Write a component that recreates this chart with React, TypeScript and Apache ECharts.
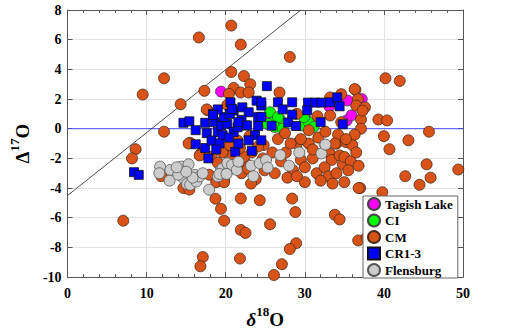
import React, { useEffect, useRef } from "react";
import * as echarts from "echarts";

// ---- data (δ18O, Δ17O) ----
const tagishLake: number[][] = [
  [19.4, 2.5], [25.6, 0.9], [30.1, 0.67], [33.1, 1.5], [35.4, 1.9], [36.7, 1.8],
  [37.2, 2.0], [35.3, 0.56], [35.9, 0.9],
];

const ciData: number[][] = [
  [25.6, 1.11], [26.0, 0.44], [26.8, 0.67], [26.6, 0.78], [26.2, 0.11], [27.2, 0.0],
  [29.7, 0.22], [30.5, 0.44], [31.1, 0.11], [29.9, 0.78], [25.3, 0.33],
];

const cmData: number[][] = [
  // upper scatter
  [20.7, 6.95], [16.6, 6.15], [21.9, 5.67], [28.1, 4.84], [20.7, 3.82], [22.3, 3.55],
  [12.2, 3.4], [23.1, 3.0], [17.3, 2.55], [9.5, 2.3], [21.0, 2.75], [20.4, 2.35],
  [21.9, 2.44], [22.9, 2.44], [26.8, 2.44], [14.3, 1.65], [17.7, 1.25], [20.2, 1.6],
  [12.2, -0.2], [8.6, -1.38], [8.15, -2.0], [15.5, -0.95], [16.8, -1.73], [19.8, -1.55],
  [33.2, 2.11], [34.6, 2.33], [36.4, 2.62], [36.7, 2.0], [36.5, 1.56], [37.6, 1.44],
  [37.1, 0.62], [39.3, 0.62], [40.4, 0.56], [40.2, 3.4], [42.0, 3.22], [45.7, -0.2],
  [40.0, -0.5], [43.1, -0.78], [40.7, -1.38], [45.4, -2.4], [49.4, -2.75], [42.7, -3.2],
  [44.5, -3.78], [45.9, -3.3], [39.8, -4.28], [37.0, -4.0], [31.6, 0.84], [33.2, 0.89],
  [34.6, 0.44], [37.1, 0.0], [29.0, 1.0], [37.3, 1.22], [36.3, 2.67], [17.6, 1.3],
  // dense cluster
  [24.8, -1.1], [25.9, -1.6], [27.6, -1.6], [29.0, -1.0], [29.5, -2.1], [30.5, -1.0],
  [31.7, -0.6], [32.6, -1.1], [33.2, -1.7], [33.4, -2.1], [34.0, -1.0], [34.4, -1.8],
  [34.8, -2.4], [35.0, -1.9], [35.2, -0.9], [35.8, -2.2], [36.0, -1.1], [36.3, -0.4],
  [26.2, -3.0], [24.9, -2.8], [24.7, -2.0], [24.1, -1.2], [23.3, -1.6], [22.5, -2.3],
  [22.3, -1.9], [21.0, -2.2], [20.8, -1.8], [19.6, -1.6], [18.8, -3.3], [19.8, -3.4],
  [17.9, -3.1], [18.8, -3.6], [19.8, -3.6], [16.7, -1.8], [15.3, -1.0], [14.65, -4.0],
  [15.4, -4.1], [11.85, -3.2], [26.6, -0.7], [29.5, -0.7], [32.6, -0.2], [34.2, -0.4],
  [35.2, -0.7], [28.2, -1.0], [33.8, -1.0], [30.5, -0.1], [27.0, -2.2], [28.5, -2.8],
  [30.0, -2.6], [31.0, -2.0], [31.5, -3.0], [32.5, -2.6], [33.0, -3.2], [34.0, -3.0],
  [35.5, -2.8], [36.5, -1.6], [36.8, -2.5], [23.0, -0.5], [21.5, -0.8], [20.5, -1.1],
  [22.0, -3.0], [23.8, -3.4], [27.8, -3.3], [30.0, -3.6], [32.0, -3.5], [36.8, -4.0],
  [23.2, -3.7], [35.0, -3.6], [33.5, -3.7], [29.0, -3.2], [31.0, -1.4], [27.5, -0.3],
  [18.2, -1.9], [19.0, -2.3], [21.8, -1.3], [22.8, -2.7],
  // lower scatter
  [7.04, -6.2], [17.1, -8.65], [16.8, -9.27], [21.8, -8.75], [21.9, -4.7], [18.7, -4.72],
  [19.4, -5.4], [19.8, -6.2], [21.9, -6.82], [22.5, -7.02], [24.3, -4.82], [28.4, -4.71],
  [28.8, -5.62], [25.6, -6.44], [33.8, -5.8], [34.4, -6.11], [28.9, -7.72], [28.1, -8.11],
  [27.1, -9.13], [26.1, -9.86], [36.75, -7.53], [37.8, -7.33],
];

const cr13Data: number[][] = [
  [8.4, -2.93], [9.0, -3.11], [14.65, 0.4], [15.4, 0.5], [16.2, -0.1], [16.2, -1.05],
  [17.4, -1.3], [17.4, 0.4], [18.4, 1.0], [17.6, -0.3], [18.6, 0.44], [19.0, -0.22],
  [19.4, 0.22], [20.2, 0.33], [19.8, 0.78], [20.6, 1.78], [21.0, 1.22], [22.1, 1.44],
  [22.9, 1.11], [23.9, 1.89], [24.5, 1.56], [24.1, 0.78], [19.6, -0.44], [21.0, -0.22],
  [22.5, 0.22], [23.7, -0.44], [21.2, -1.56], [23.3, -1.49], [21.6, -1.0], [22.9, -0.78],
  [17.8, -2.0], [25.2, 2.87], [24.5, 1.78], [26.6, 1.78], [28.4, 1.78], [30.4, 1.76],
  [31.3, 1.76], [32.1, 1.76], [33.2, 1.78], [34.1, 2.11], [34.4, 1.51], [30.3, 1.24],
  [27.2, 1.3], [28.4, 0.95], [24.5, 0.8], [25.8, 0.2], [27.9, 0.42], [28.9, 0.18],
  [32.0, 0.44], [34.8, 0.3], [24.5, -0.78], [18.2, -0.8], [19.2, -1.0], [20.4, -0.6],
  [18.8, -1.4], [22.0, 0.6], [21.5, 0.1], [20.5, 1.0], [19.0, 1.3], [20.8, 1.33],
  [21.6, 0.44], [22.7, 0.22], [24.1, 0.18], [18.4, 0.93],
];

const flensburgData: number[][] = [
  [11.7, -2.56], [11.6, -3.0], [13.0, -2.78], [12.9, -3.5], [14.4, -2.56], [15.3, -2.4],
  [14.65, -3.33], [15.1, -3.73], [14.0, -3.1], [15.5, -3.78], [16.1, -3.11], [16.3, -3.56],
  [16.7, -3.22], [17.1, -3.0], [17.9, -4.11], [19.0, -3.22], [19.4, -2.78], [19.6, -2.67],
  [20.4, -2.78], [20.2, -2.33], [20.8, -2.44], [21.4, -2.78], [21.6, -2.22], [23.2, -2.49],
  [23.5, -3.2], [24.3, -2.33], [25.1, -2.11], [25.3, -2.62], [26.9, -1.78], [28.0, -2.49],
  [29.3, -1.6], [32.1, -1.67], [32.6, -1.07], [15.8, -3.3], [15.0, -2.9], [13.8, -2.6],
  [19.2, -3.05], [20.1, -3.05],
];

const diagonalLine: number[][] = [[0, -4.5], [29.5, 8]];
const zeroLine: number[][] = [[0, 0], [50, 0]];

const xTicks = { min: 0, max: 50, interval: 10 };
const yTicks = { min: -10, max: 8, interval: 2 };

const FONT = "'Liberation Serif', 'Times New Roman', serif";

export default function App() {
  const ref = useRef<HTMLDivElement>(null);

  useEffect(() => {
    if (!ref.current) return;
    const chart = echarts.init(ref.current, null, { renderer: "svg" });
    const axisColor = "#555";
    const labelStyle = {
      fontFamily: FONT,
      fontWeight: "bold" as const,
      fontSize: 14,
      color: "#000",
    };
    const scatterBase = (name: string, data: number[][], symbol: string, size: number, color: string, border: string) => ({
      name,
      type: "scatter",
      xAxisIndex: 0,
      yAxisIndex: 0,
      data,
      symbol,
      symbolSize: size,
      itemStyle: { color, borderColor: border, borderWidth: 0.8, opacity: 1 },
      emphasis: { disabled: true },
    });
    const nameRich = (italicFirst: boolean) => ({
      d: { fontFamily: FONT, fontWeight: "bold", fontStyle: italicFirst ? "italic" : "normal", fontSize: 19, color: "#000", lineHeight: 24, verticalAlign: "bottom" },
      s: { fontFamily: FONT, fontWeight: "bold", fontSize: 13, color: "#000", lineHeight: 13, verticalAlign: "top" },
      o: { fontFamily: FONT, fontWeight: "bold", fontSize: 19, color: "#000", lineHeight: 24, verticalAlign: "bottom" },
    });

    chart.setOption({
      animation: false,
      backgroundColor: "#fff",
      grid: { left: 58, top: 10, width: 405, height: 270, containLabel: false },
      legend: {
        left: 363,
        top: 196,
        orient: "vertical",
        selectedMode: false,
        backgroundColor: "#fff",
        borderColor: "#666",
        borderWidth: 1,
        padding: [1, 5, 1, 4],
        itemGap: 2.5,
        itemWidth: 12,
        itemHeight: 12,
        textStyle: { fontFamily: FONT, fontWeight: "bold", fontSize: 13, lineHeight: 13, color: "#000" },
        data: ["Tagish Lake", "CI", "CM", "CR1-3", "Flensburg"],
      },
      xAxis: [
        {
          type: "value",
          ...xTicks,
          position: "bottom",
          name: "{d|δ}{s|18}{o|O}",
          nameLocation: "middle",
          nameGap: 16,
          nameTextStyle: { fontFamily: FONT, fontWeight: "bold", fontSize: 19, color: "#000", rich: nameRich(true) },
          axisLine: { show: true, onZero: false, lineStyle: { color: axisColor, width: 1 } },
          axisTick: { show: true, inside: true, length: 5, lineStyle: { color: axisColor } },
          minorTick: { show: true, splitNumber: 5, length: 3, lineStyle: { color: axisColor } },
          axisLabel: { ...labelStyle, margin: 9 },
          splitLine: { show: true, lineStyle: { color: "#e3e3e3", width: 1 } },
        },
        {
          type: "value",
          ...xTicks,
          position: "top",
          axisLine: { show: true, onZero: false, lineStyle: { color: axisColor, width: 1 } },
          axisTick: { show: true, inside: true, length: 5, lineStyle: { color: axisColor } },
          minorTick: { show: true, splitNumber: 5, length: 3, lineStyle: { color: axisColor } },
          axisLabel: { show: false },
          splitLine: { show: false },
        },
      ],
      yAxis: [
        {
          type: "value",
          ...yTicks,
          position: "left",
          name: "{d|Δ}{s|17}{o|O}",
          nameLocation: "middle",
          nameGap: 24,
          nameTextStyle: { fontFamily: FONT, fontWeight: "bold", fontSize: 19, color: "#000", rich: nameRich(false) },
          axisLine: { show: true, onZero: false, lineStyle: { color: axisColor, width: 1 } },
          axisTick: { show: true, inside: true, length: 5, lineStyle: { color: axisColor } },
          axisLabel: { ...labelStyle, margin: 6 },
          splitLine: { show: true, lineStyle: { color: "#e3e3e3", width: 1 } },
        },
        {
          type: "value",
          ...yTicks,
          position: "right",
          axisLine: { show: true, onZero: false, lineStyle: { color: axisColor, width: 1 } },
          axisTick: { show: true, inside: true, length: 5, lineStyle: { color: axisColor } },
          axisLabel: { show: false },
          splitLine: { show: false },
        },
      ],
      series: [
        {
          name: "zero",
          type: "line",
          xAxisIndex: 0,
          yAxisIndex: 0,
          data: zeroLine,
          symbol: "none",
          lineStyle: { color: "#4a4aff", width: 1 },
          silent: true,
          z: 1,
        },
        {
          name: "diag",
          type: "line",
          xAxisIndex: 0,
          yAxisIndex: 0,
          data: diagonalLine,
          symbol: "none",
          lineStyle: { color: "#222", width: 0.8 },
          silent: true,
          z: 1,
        },
        scatterBase("Tagish Lake", tagishLake, "circle", 11, "#ff00ff", "#444"),
        scatterBase("CI", ciData, "circle", 11, "#00ff00", "#444"),
        scatterBase("CM", cmData, "circle", 11, "#d95319", "#4a2c1c"),
        scatterBase("CR1-3", cr13Data, "rect", 9, "#0000ff", "#111"),
        scatterBase("Flensburg", flensburgData, "circle", 11, "#cccccc", "#555"),
      ],
    });
    return () => chart.dispose();
  }, []);

  return (
    <div
      ref={ref}
      style={{ position: "absolute", left: 0, top: 0, width: 510, height: 334 }}
    />
  );
}
